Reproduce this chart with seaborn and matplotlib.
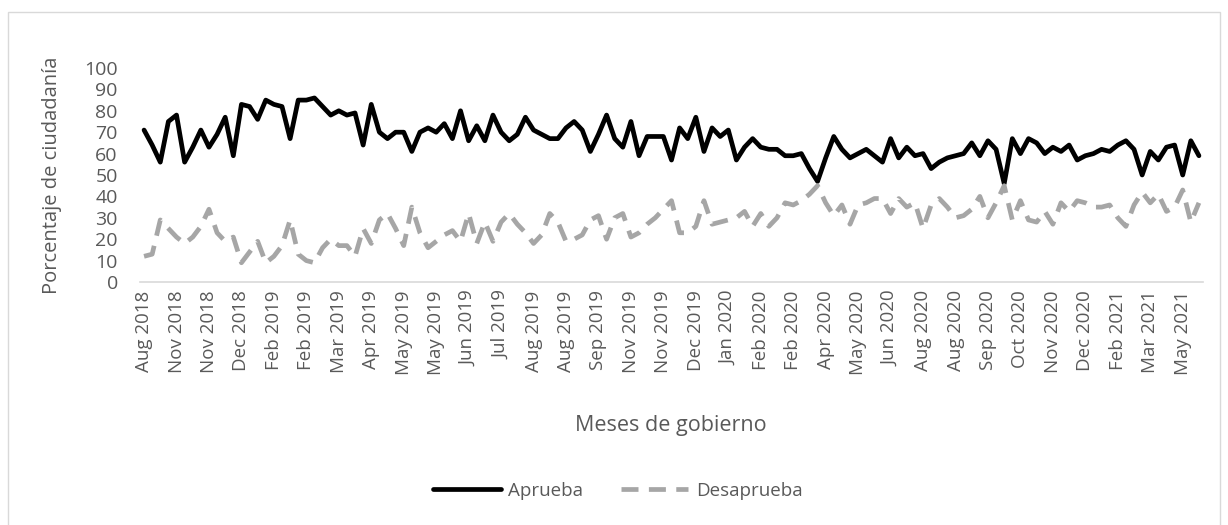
import numpy as np
import pandas as pd
import seaborn as sns
import matplotlib.pyplot as plt
from matplotlib.lines import Line2D

# Approval / disapproval, one value per poll (131 polls)
aprueba = [71, 64, 56, 75, 78, 56, 63, 71, 63, 69, 77, 59, 83, 82, 76, 85, 83, 82, 67, 85,
           85, 86, 82, 78, 80, 78, 79, 64, 83, 70, 67, 70, 70, 61, 70, 72, 70, 74, 67, 80,
           66, 73, 66, 78, 70, 66, 69, 77, 71, 69, 67, 67, 72, 75, 71, 61, 69, 78, 67, 63,
           75, 59, 68, 68, 68, 57, 72, 67, 77, 61, 72, 68, 71, 57, 63, 67, 63, 62, 62, 59,
           59, 60, 53, 47, 58, 68, 62, 58, 60, 62, 59, 56, 67, 58, 63, 59, 60, 53, 56, 58,
           59, 60, 65, 59, 66, 62, 46, 67, 60, 67, 65, 60, 63, 61, 64, 57, 59, 60, 62, 61,
           64, 66, 62, 50, 61, 57, 63, 64, 50, 66, 59]

desaprueba = [12, 13, 29, 25, 21, 18, 21, 26, 34, 23, 19, 21, 9, 14, 19, 9, 12, 17, 29, 13,
              10, 9, 16, 20, 17, 17, 12, 25, 18, 29, 32, 25, 17, 35, 23, 16, 19, 22, 24, 19,
              32, 18, 28, 19, 28, 32, 27, 23, 18, 22, 32, 28, 19, 20, 22, 29, 31, 20, 30, 32,
              21, 23, 27, 30, 34, 38, 23, 23, 26, 38, 27, 28, 29, 30, 33, 26, 32, 26, 30, 37,
              36, 38, 41, 45, 37, 31, 36, 27, 36, 37, 39, 39, 32, 39, 35, 37, 25, 36, 39, 35,
              30, 31, 34, 40, 30, 37, 45, 29, 38, 29, 28, 33, 27, 37, 33, 38, 37, 35, 35, 36,
              30, 26, 36, 42, 37, 41, 33, 35, 43, 28, 37]

# Labels shown on the axis (every fourth poll)
tick_labels = ["Aug 2018", "Nov 2018", "Nov 2018", "Dec 2018", "Feb 2019", "Feb 2019",
               "Mar 2019", "Apr 2019", "May 2019", "May 2019", "Jun 2019", "Jul 2019",
               "Aug 2019", "Aug 2019", "Sep 2019", "Nov 2019", "Nov 2019", "Dec 2019",
               "Jan 2020", "Feb 2020", "Feb 2020", "Apr 2020", "May 2020", "Jun 2020",
               "Aug 2020", "Aug 2020", "Sep 2020", "Oct 2020", "Nov 2020", "Dec 2020",
               "Feb 2021", "Mar 2021", "May 2021"]

df = pd.DataFrame({"mes": np.arange(len(aprueba)),
                   "Aprueba": aprueba,
                   "Desaprueba": desaprueba})

sns.set_style("white")
plt.rcParams["font.family"] = ["Open Sans", "DejaVu Sans"]

txt = "#595959"
fig = plt.figure(figsize=(12.28, 5.25), dpi=100)
ax = fig.add_axes([140 / 1228, 1 - 282 / 525, 1063 / 1228, 214 / 525])

sns.lineplot(data=df, x="mes", y="Aprueba", ax=ax, color="black", linewidth=3.4)
sns.lineplot(data=df, x="mes", y="Desaprueba", ax=ax, color="#a6a6a6", linewidth=3.4,
             linestyle=(0, (3.6, 2.2)))

ax.set_xlim(-0.5, len(aprueba) - 0.5)
ax.set_ylim(0, 100)
ax.set_yticks(range(0, 101, 10))
ax.set_xticks(range(0, len(aprueba), 4))
ax.set_xticklabels(tick_labels, rotation=90)
ax.tick_params(axis="both", length=0, colors=txt)
ax.tick_params(axis="y", pad=16, labelsize=14)
ax.tick_params(axis="x", pad=6, labelsize=13.5)

for s in ["top", "right", "left"]:
    ax.spines[s].set_visible(False)
ax.spines["bottom"].set_color("#d9d9d9")
ax.spines["bottom"].set_linewidth(1.2)

ax.set_xlabel("")
ax.set_ylabel("Porcentaje de ciudadanía", fontsize=14.5, color=txt)
ax.yaxis.set_label_coords(-0.073, 0.5)
fig.text(671 / 1228, 1 - 425 / 525, "Meses de gobierno", ha="center", va="center",
         fontsize=15.5, color=txt)

handles = [Line2D([], [], color="black", linewidth=3.4),
           Line2D([], [], color="#a6a6a6", linewidth=3.4, linestyle=(0, (3.6, 2.2)))]
fig.legend(handles, ["Aprueba", "Desaprueba"], loc="center",
           bbox_to_anchor=(618 / 1228, 1 - 491 / 525), ncol=2, frameon=False,
           fontsize=13.5, labelcolor=txt, handlelength=3.6, columnspacing=2.0,
           handletextpad=0.4)

# chart area border
fig.add_artist(plt.Rectangle((8 / 1228, -0.01), 1212 / 1228, 1 - 12 / 525 + 0.01,
                             transform=fig.transFigure, fill=False,
                             edgecolor="#d9d9d9", linewidth=1))

fig.savefig("out.png", dpi=100)
